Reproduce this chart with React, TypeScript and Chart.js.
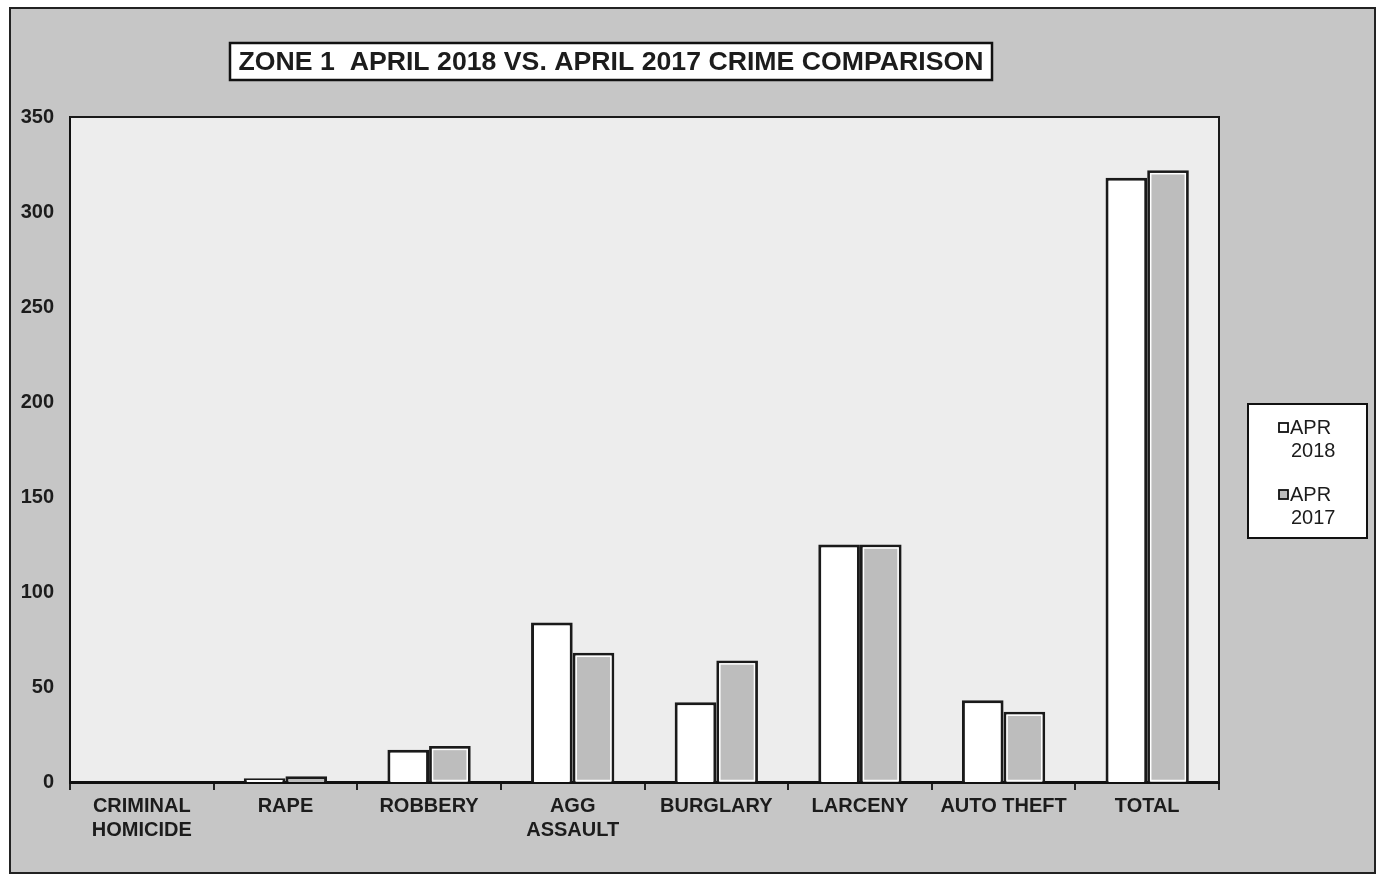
import { useEffect, useRef } from "react";
import { Chart, registerables } from "chart.js";

Chart.register(...registerables);

const categories: (string | string[])[] = [
  ["CRIMINAL", "HOMICIDE"],
  "RAPE",
  "ROBBERY",
  ["AGG", "ASSAULT"],
  "BURGLARY",
  "LARCENY",
  "AUTO THEFT",
  "TOTAL",
];
const apr2018 = [0, 2, 17, 84, 42, 125, 43, 318];
const apr2017 = [0, 3, 19, 68, 64, 125, 37, 322];
const seriesNames = ["APR 2018", "APR 2017"];
const legendLines = [["APR", "2018"], ["APR", "2017"]];
const yMin = 0;
const yMax = 350;
const yStep = 50;
const titleText = "ZONE 1  APRIL 2018 VS. APRIL 2017 CRIME COMPARISON";

const FONT = '"Liberation Sans", Arial, sans-serif';
const INK = "#1c1c1c";

const framePlugin = {
  id: "frame",
  beforeDraw(chart: any) {
    const { ctx, width, height, chartArea } = chart;
    ctx.save();
    ctx.fillStyle = "#ffffff";
    ctx.fillRect(0, 0, width, height);
    ctx.fillStyle = "#c6c6c6";
    ctx.fillRect(10, 8, width - 14, height - 13);
    ctx.strokeStyle = "#222";
    ctx.lineWidth = 2;
    ctx.strokeRect(10, 8, width - 14, height - 13);
    ctx.fillStyle = "#ededed";
    ctx.fillRect(chartArea.left, chartArea.top, chartArea.right - chartArea.left, chartArea.bottom - chartArea.top);
    ctx.restore();
  },
  afterDatasetsDraw(chart: any) {
    const { ctx } = chart;
    const meta = chart.getDatasetMeta(1);
    ctx.save();
    ctx.strokeStyle = "#ffffff";
    ctx.lineWidth = 1.5;
    meta.data.forEach((bar: any) => {
      const p = bar.getProps(["x", "y", "base", "width"], true);
      const h = p.base - p.y;
      if (h > 10) {
        ctx.strokeRect(p.x - p.width / 2 + 3.5, p.y + 3.5, p.width - 7, h - 5);
      }
    });
    ctx.restore();
  },
  afterDraw(chart: any) {
    const { ctx, chartArea } = chart;
    ctx.save();
    ctx.strokeStyle = "#1a1a1a";
    ctx.lineWidth = 2;
    ctx.beginPath();
    ctx.moveTo(chartArea.left, chartArea.top);
    ctx.lineTo(chartArea.right, chartArea.top);
    ctx.lineTo(chartArea.right, chartArea.bottom);
    ctx.stroke();

    // title box
    const tx = 230, ty = 43, tw = 762, th = 37;
    ctx.fillStyle = "#ffffff";
    ctx.fillRect(tx, ty, tw, th);
    ctx.lineWidth = 2.5;
    ctx.strokeStyle = "#111";
    ctx.strokeRect(tx, ty, tw, th);
    ctx.fillStyle = INK;
    ctx.font = `bold 25px ${FONT}`;
    ctx.textBaseline = "middle";
    ctx.textAlign = "left";
    const mw = ctx.measureText(titleText).width;
    const target = 745;
    ctx.save();
    ctx.translate(tx + (tw - target) / 2, ty + th / 2 + 1);
    ctx.scale(target / mw, 1.05);
    ctx.fillText(titleText, 0, 0);
    ctx.restore();

    // legend box
    const lx = chartArea.right + 29, ly = 404, lw = 119, lh = 134;
    ctx.fillStyle = "#ffffff";
    ctx.fillRect(lx, ly, lw, lh);
    ctx.strokeStyle = "#111";
    ctx.lineWidth = 2;
    ctx.strokeRect(lx, ly, lw, lh);
    ctx.font = `20px ${FONT}`;
    ctx.textBaseline = "alphabetic";
    legendLines.forEach((lines, i) => {
      const by = ly + 30 + i * 67;
      ctx.lineWidth = 1.8;
      ctx.strokeStyle = "#111";
      ctx.fillStyle = i === 0 ? "#ffffff" : "#bdbdbd";
      ctx.fillRect(lx + 31, by - 11, 9, 9);
      ctx.strokeRect(lx + 31, by - 11, 9, 9);
      ctx.fillStyle = INK;
      ctx.fillText(lines[0], lx + 42, by);
      ctx.fillText(lines[1], lx + 43, by + 23);
    });
    ctx.restore();
  },
};

export default function App() {
  const ref = useRef<HTMLCanvasElement | null>(null);
  useEffect(() => {
    document.body.style.margin = "0";
    const canvas = ref.current!;
    const chart = new Chart(canvas, {
      type: "bar",
      data: {
        labels: categories as any,
        datasets: [
          {
            label: seriesNames[0],
            data: apr2018,
            backgroundColor: "#ffffff",
            borderColor: "#1a1a1a",
            borderWidth: 3,
            categoryPercentage: 0.58,
            barPercentage: 1.0,
          },
          {
            label: seriesNames[1],
            data: apr2017,
            backgroundColor: "#bdbdbd",
            borderColor: "#1a1a1a",
            borderWidth: 3,
            categoryPercentage: 0.58,
            barPercentage: 1.0,
          },
        ],
      },
      plugins: [framePlugin],
      options: {
        responsive: false,
        animation: false,
        layout: { padding: { left: 10, right: 160, top: 117, bottom: 0 } },
        plugins: {
          legend: { display: false },
          title: { display: false },
          tooltip: { enabled: false },
        },
        scales: {
          x: {
            grid: {
              offset: true,
              drawOnChartArea: false,
              drawTicks: true,
              tickLength: 8,
              color: "#222",
              lineWidth: 2,
            },
            border: { display: true, color: "#111", width: 3 },
            ticks: {
              color: INK,
              font: { family: FONT, size: 20, weight: "bold", lineHeight: 1.2 },
              padding: 4,
              maxRotation: 0,
              autoSkip: false,
            },
            afterFit: (s: any) => {
              s.height = 96;
            },
          },
          y: {
            min: yMin,
            max: yMax,
            grid: { display: false },
            border: { display: true, color: "#111", width: 2 },
            ticks: {
              stepSize: yStep,
              color: INK,
              font: { family: FONT, size: 20, weight: "bold" },
              padding: 8,
            },
            afterFit: (s: any) => {
              s.width = 60;
            },
          },
        },
      },
    });
    return () => chart.destroy();
  }, []);
  return <canvas ref={ref} width={1379} height={878} style={{ display: "block" }} />;
}
